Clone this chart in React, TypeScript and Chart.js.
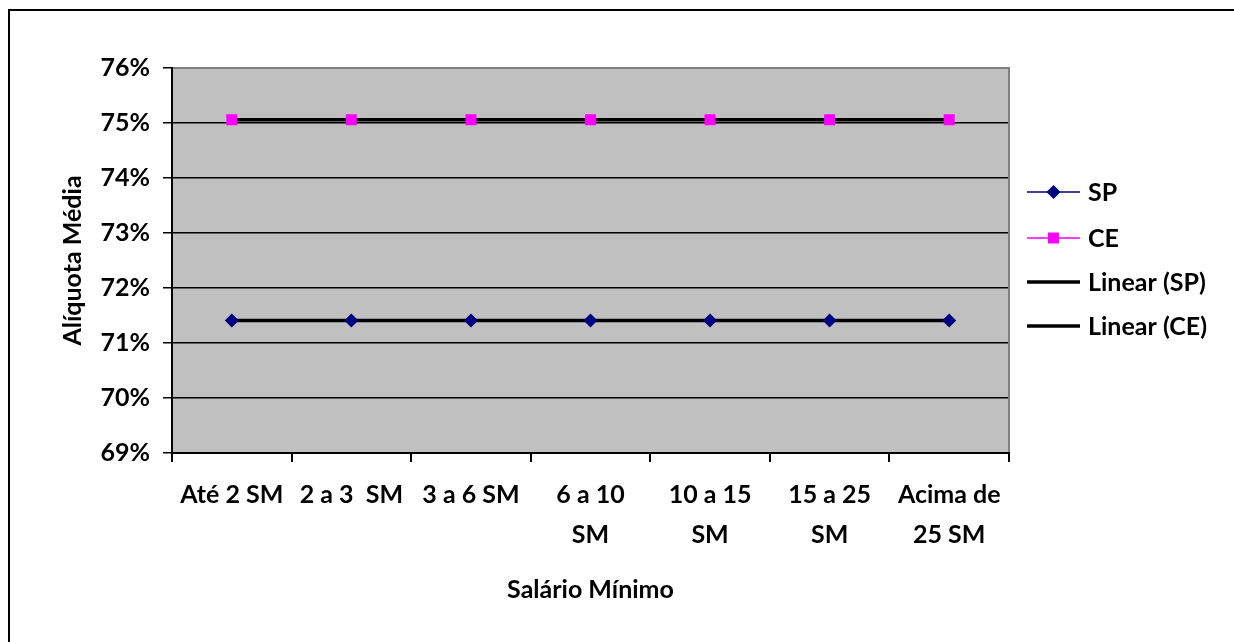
import React, { useEffect, useRef } from "react";
import { Chart, registerables } from "chart.js";

Chart.register(...registerables);

const categories: (string | string[])[] = [
  "Até 2 SM",
  "2 a 3  SM",
  "3 a 6 SM",
  ["6 a 10", "SM"],
  ["10 a 15", "SM"],
  ["15 a 25", "SM"],
  ["Acima de", "25 SM"],
];
const spValues = [71.41, 71.41, 71.41, 71.41, 71.41, 71.41, 71.41];
const ceValues = [75.06, 75.06, 75.06, 75.06, 75.06, 75.06, 75.06];
const yMin = 69;
const yMax = 76;
const yStep = 1;
const yTitle = "Alíquota Média";
const xTitle = "Salário Mínimo";
const legendLabels = ["SP", "CE", "Linear (SP)", "Linear (CE)"];

function linearTrend(vals: number[]): number[] {
  const n = vals.length;
  const xs = vals.map((_, i) => i + 1);
  const mx = xs.reduce((a, b) => a + b, 0) / n;
  const my = vals.reduce((a, b) => a + b, 0) / n;
  let num = 0;
  let den = 0;
  for (let i = 0; i < n; i++) {
    num += (xs[i] - mx) * (vals[i] - my);
    den += (xs[i] - mx) * (xs[i] - mx);
  }
  const slope = den === 0 ? 0 : num / den;
  return xs.map((x) => my + slope * (x - mx));
}

const FONT = "Lato";
const FSIZE = 25;

export default function App() {
  const ref = useRef<HTMLCanvasElement | null>(null);

  useEffect(() => {
    if (!ref.current) return;

    const decor = {
      id: "decor",
      beforeDraw(chart: any) {
        const { ctx, chartArea } = chart;
        ctx.save();
        ctx.fillStyle = "#ffffff";
        ctx.fillRect(0, 0, chart.width, chart.height);
        ctx.strokeStyle = "#000000";
        ctx.lineWidth = 2;
        ctx.beginPath();
        ctx.moveTo(9, chart.height + 5);
        ctx.lineTo(9, 10);
        ctx.lineTo(chart.width + 5, 10);
        ctx.stroke();
        ctx.fillStyle = "#C0C0C0";
        ctx.fillRect(
          chartArea.left,
          chartArea.top,
          chartArea.right - chartArea.left,
          chartArea.bottom - chartArea.top
        );
        ctx.restore();
      },
      afterDatasetsDraw(chart: any) {
        const { ctx, chartArea } = chart;
        ctx.save();
        ctx.strokeStyle = "#808080";
        ctx.lineWidth = 2;
        ctx.beginPath();
        ctx.moveTo(chartArea.left + 1, chartArea.top);
        ctx.lineTo(chartArea.right, chartArea.top);
        ctx.lineTo(chartArea.right, chartArea.bottom - 1);
        ctx.stroke();
        ctx.restore();
      },
      afterDraw(chart: any) {
        const { ctx } = chart;
        const ds = chart.data.datasets;
        ctx.save();
        ctx.font = `bold ${FSIZE}px ${FONT}`;
        ctx.textBaseline = "middle";
        ctx.textAlign = "left";
        const x0 = 1027;
        const x1 = 1080;
        const ys = [192, 238, 282, 326];
        ds.forEach((d: any, i: number) => {
          const y = ys[i];
          ctx.strokeStyle = d.borderColor;
          ctx.lineWidth = d.legendLineWidth;
          ctx.beginPath();
          ctx.moveTo(x0, y);
          ctx.lineTo(x1, y);
          ctx.stroke();
          const cx = (x0 + x1) / 2;
          if (d.pointRadius > 0) {
            ctx.fillStyle = d.pointBackgroundColor;
            if (d.pointStyle === "rectRot") {
              const r = 7;
              ctx.beginPath();
              ctx.moveTo(cx, y - r);
              ctx.lineTo(cx + r, y);
              ctx.lineTo(cx, y + r);
              ctx.lineTo(cx - r, y);
              ctx.closePath();
              ctx.fill();
            } else {
              ctx.fillRect(cx - 5.5, y - 5.5, 11, 11);
            }
          }
          ctx.fillStyle = "#000000";
          ctx.fillText(legendLabels[i], 1088, y + 1);
        });
        ctx.restore();
      },
    };

    const chart = new Chart(ref.current, {
      type: "line",
      data: {
        labels: categories as any,
        datasets: [
          {
            label: legendLabels[0],
            data: spValues,
            borderColor: "#000080",
            backgroundColor: "#000080",
            borderWidth: 1,
            legendLineWidth: 1.5,
            showLine: false,
            pointStyle: "rectRot",
            pointRadius: 7,
            pointBackgroundColor: "#000080",
            pointBorderColor: "#000080",
            pointBorderWidth: 0,
            order: 0,
          } as any,
          {
            label: legendLabels[1],
            data: ceValues,
            borderColor: "#FF00FF",
            backgroundColor: "#FF00FF",
            borderWidth: 1,
            legendLineWidth: 1.5,
            showLine: false,
            pointStyle: "rect",
            pointRadius: 7.8,
            pointBackgroundColor: "#FF00FF",
            pointBorderColor: "#FF00FF",
            pointBorderWidth: 0,
            order: 0,
          } as any,
          {
            label: legendLabels[2],
            data: linearTrend(spValues),
            borderColor: "#000000",
            borderWidth: 3.5,
            legendLineWidth: 3.5,
            pointRadius: 0,
            order: 1,
          } as any,
          {
            label: legendLabels[3],
            data: linearTrend(ceValues),
            borderColor: "#000000",
            borderWidth: 3.5,
            legendLineWidth: 3.5,
            pointRadius: 0,
            order: 1,
          } as any,
        ],
      },
      options: {
        responsive: false,
        animation: false,
        layout: { padding: { top: 68, right: 225, left: 0, bottom: 0 } },
        plugins: {
          legend: { display: false },
          tooltip: { enabled: false },
        },
        scales: {
          x: {
            offset: true,
            grid: {
              offset: true,
              drawOnChartArea: false,
              drawTicks: true,
              tickLength: 9,
              color: "#000000",
              lineWidth: 2,
            },
            border: { color: "#000000", width: 2 },
            ticks: {
              color: "#000000",
              font: { family: FONT, size: FSIZE, weight: "bold", lineHeight: 1.6 },
              padding: 13,
              maxRotation: 0,
              autoSkip: false,
            },
            title: {
              display: true,
              text: xTitle,
              color: "#000000",
              font: { family: FONT, size: FSIZE, weight: "bold" },
              padding: { top: 0, bottom: 37 },
            },
            afterFit(scale: any) {
              scale.height = 189;
            },
          },
          y: {
            min: yMin,
            max: yMax,
            grid: {
              color: "#000000",
              lineWidth: 1.5,
              tickLength: 9,
            },
            border: { color: "#000000", width: 2 },
            ticks: {
              stepSize: yStep,
              color: "#000000",
              font: { family: FONT, size: FSIZE, weight: "bold" },
              padding: 13,
              callback: (v: any) => `${v}%`,
            },
            title: {
              display: true,
              text: yTitle,
              color: "#000000",
              font: { family: FONT, size: FSIZE, weight: "bold" },
              padding: { top: 58, bottom: 0 },
            },
            afterFit(scale: any) {
              scale.width = 172;
            },
          },
        },
      } as any,
      plugins: [decor],
    });

    return () => chart.destroy();
  }, []);

  return (
    <div style={{ position: "fixed", left: 0, top: 0, width: 1234, height: 642, background: "#fff" }}>
      <canvas ref={ref} width={1234} height={642} style={{ display: "block" }} />
    </div>
  );
}
